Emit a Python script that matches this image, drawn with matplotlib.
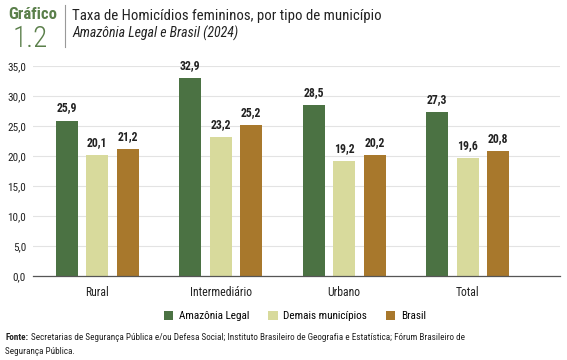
import numpy as np
from matplotlib import pyplot as plt
from matplotlib import font_manager

# data
categorias = ['Rural', 'Intermediário', 'Urbano', 'Total']
amazonia = [25.9, 32.9, 28.5, 27.3]
demais = [20.1, 23.2, 19.2, 19.6]
brasil = [21.2, 25.2, 20.2, 20.8]
series_nomes = ['Amazônia Legal', 'Demais municípios', 'Brasil']
yticks = [0, 5, 10, 15, 20, 25, 30, 35]

cores = ['#4b7243', '#d8da9c', '#a8782c']
verde_titulo = '#5a7f4a'

nomes = set(f.name for f in font_manager.fontManager.ttflist)
fonte = 'Roboto'
for cand in ['Roboto Condensed', 'Liberation Sans Narrow', 'Open Sans Condensed']:
    if cand in nomes:
        fonte = cand
        break
plt.rcParams['font.family'] = [fonte, 'DejaVu Sans']


def br(v):
    return '{:.1f}'.format(v).replace('.', ',')


fig = plt.figure(figsize=(5.67, 3.6), dpi=100)
ax = fig.add_axes([0.058, 0.233, 0.930, 0.584])

x = np.arange(len(categorias))
largura = 0.178
passo = 0.247
for i, (vals, cor, nome) in enumerate(zip([amazonia, demais, brasil], cores, series_nomes)):
    pos = x + (i - 1) * passo
    ax.bar(pos, vals, width=largura, color=cor, label=nome, zorder=3)
    for p, v in zip(pos, vals):
        ax.text(p, v + 1.0, br(v), ha='center', va='bottom', fontsize=8.5,
                fontweight='bold', color='#222222')

ax.set_xlim(-0.52, 3.75)
ax.set_ylim(0, 35)
ax.set_yticks(yticks)
ax.set_yticklabels([br(t) for t in yticks], fontsize=8, color='#222222')
ax.set_xticks(x)
ax.set_xticklabels(categorias, fontsize=8.5, color='#222222')
ax.tick_params(axis='x', length=0, pad=7)
ax.tick_params(axis='y', length=0, pad=5)
ax.grid(axis='y', color='#e3e3e3', linewidth=0.8, zorder=0)
for s in ['top', 'right', 'left']:
    ax.spines[s].set_visible(False)
ax.spines['bottom'].set_color('#555555')
ax.spines['bottom'].set_linewidth(0.9)
ax.spines['bottom'].set_zorder(4)

leg = fig.legend(loc='center', bbox_to_anchor=(0.52, 0.122), ncol=3, frameon=False,
                 fontsize=8, handlelength=0.85, handleheight=0.85, columnspacing=1.7,
                 handletextpad=0.5)

# titulo
fig.text(0.014, 0.960, 'Gráfico', fontsize=12, fontweight='bold', color=verde_titulo,
         va='center', ha='left')
fig.text(0.053, 0.893, '1.2', fontsize=21, color=verde_titulo, va='center', ha='center',
         fontweight='light')
fig.add_artist(plt.Line2D([0.115, 0.115], [0.87, 0.985], color='#999999', linewidth=0.8))
fig.text(0.127, 0.955, 'Taxa de Homicídios femininos, por tipo de município', fontsize=10.7,
         color='#222222', va='center', ha='left')
fig.text(0.127, 0.908, 'Amazônia Legal e Brasil (2024)', fontsize=10, style='italic',
         color='#222222', va='center', ha='left')

# fonte
t1 = fig.text(0.009, 0.062, 'Fonte:', fontsize=6.6, fontweight='bold', color='#222222',
              va='center')
fig.canvas.draw()
bb = t1.get_window_extent().transformed(fig.transFigure.inverted())
fig.text(bb.x1 + 0.005, 0.062,
         'Secretarias de Segurança Pública e/ou Defesa Social; Instituto Brasileiro de Geografia e Estatística; Fórum Brasileiro de',
         fontsize=6.6, color='#222222', va='center')
fig.text(0.009, 0.025, 'Segurança Pública.', fontsize=6.6, color='#222222', va='center')

fig.savefig('out.png', dpi=100)
